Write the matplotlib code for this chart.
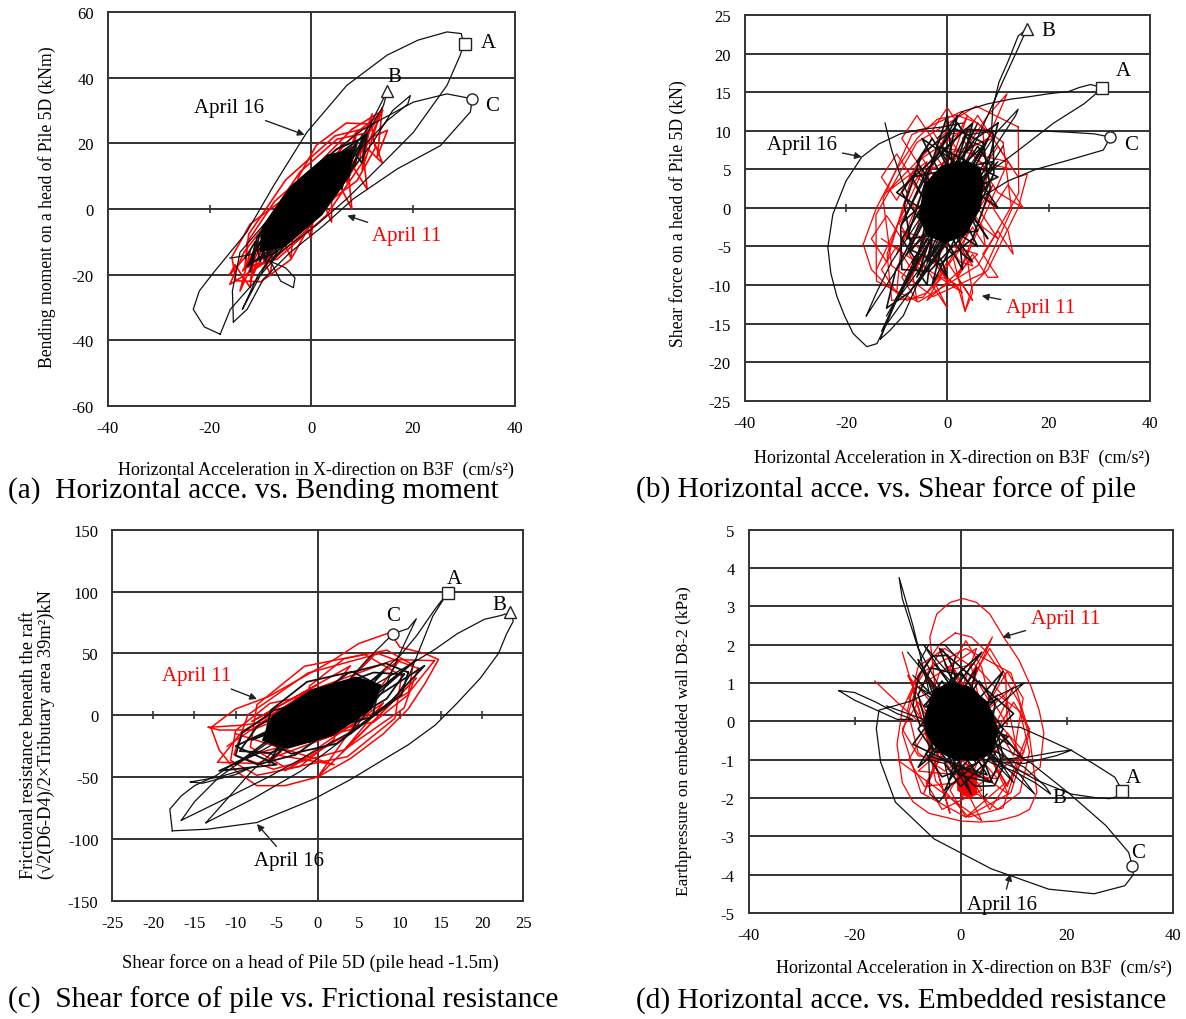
import matplotlib.pyplot as plt

plt.rcParams['font.family'] = ['Liberation Serif', 'DejaVu Serif']
plt.rcParams['axes.unicode_minus'] = False

RED = '#ff0000'

# ---------------- (a) Horizontal acce. vs. Bending moment ----------------
a_xticks = [-40, -20, 0, 20, 40]
a_yticks = [-60, -40, -20, 0, 20, 40, 60]

a16_A_x = [-17.9, -21, -23.2, -22, -19.2, -12.7, -7.4, -0.85, 7.0, 14.9, 21, 26.7, 29.5, 30.0,
           29.3, 26.7, 20.1, 13.6, 7.0, 1, -6.1, -11, -15.9, -17.9]
a16_A_y = [-38.2, -36, -30.6, -25, -19.4, -7.1, 7.1, 23.4, 37.7, 46.9, 51.5, 54, 53.5, 50.2,
           46.9, 37.7, 23.4, 13.2, 3.1, -5, -13.2, -22, -30.6, -38.2]
a16_C_x = [-15.3, -15.5, -14, -6.1, 1.8, 10.3, 20.1, 26.7, 31.7, 31.3, 25.4, 16.9, 8.3, 2.4,
           -4.1, -9.4, -12.6, -15.3]
a16_C_y = [-34.5, -25, -13.2, 1, 14.3, 24.4, 32.6, 35.1, 33.6, 29.6, 19.3, 12.2, 3.1, -5.1,
           -13.2, -21.4, -30.6, -34.5]
a16_B_x = [-13.5, -9, -2, 5.5, 11.5, 15, 14.2, 9.5, 3, -4.5, -10.5, -13.5]
a16_B_y = [-30.5, -17.3, -1, 13.2, 25.4, 36.1, 31.5, 19.3, 7.1, -7.1, -20.3, -30.5]
a16_D_x = [-8, -2, 6, 12, 16, 19.5, 19, 15, 9, 3, -3, -8]
a16_D_y = [-16, -6, 8, 20, 30, 34.6, 32, 27, 17, 6, -5, -16]
a16_lobe_x = [-8, -5, -3.2, -3.5, -6, -8]
a16_lobe_y = [-16, -18, -21, -24, -22, -16]
a16_seg_x = [-16, -12, -9]
a16_seg_y = [-15, -14, -11]
a16_core_x = [-12, -10, -9, -6, -7, -3, -5, 0, -2, 3, 1, 6, 4, 9, 7, 11, 10, 8, 6, 4, 2, 0, -2,
              -4, -6, -8, -10, -11, -13]
a16_core_y = [-19, -7, -16, -1, -13, 3, -9, 8, -4, 12, 1, 17, 4, 20, 9, 23, 14, 18, 6, 14, 0, 9,
              -6, 3, -12, -3, -16, -10, -15]
a16_k1_x = [10, 5, -3.5, -10.6, -12, -7, 1.5, 8.6, 10]
a16_k1_y = [21.5, 18.3, 5.9, -8.5, -16.5, -13.3, -0.9, 13.5, 21.5]
a16_k2_x = [8.7, 5.4, -0.5, -5.5, -6.7, -3.4, 2.5, 7.5, 8.7]
a16_k2_y = [19.3, 16.8, 8, -2, -7.3, -4.8, 4, 14, 19.3]
a16_k3_x = [3.7, 0.4, -5.5, -10.5, -11.7, -8.4, -2.5, 2.5, 3.7]
a16_k3_y = [10.3, 7.8, -1, -11, -16.3, -13.8, -5, 5, 10.3]
a16_k4_x = [10.6, 6.3, -2.3, -10, -12.6, -8.3, 0.3, 8.1, 10.6]
a16_k4_y = [22.5, 17.8, 4.2, -10.4, -17.5, -12.8, 0.8, 15.4, 22.5]
a16_fill_x = [8, 3.2, -4.1, -9.6, -10, -5.2, 2.1, 7.6]
a16_fill_y = [18, 16.4, 6.7, -5.5, -13, -11.4, -1.7, 10.5]

a11_1_x = [-16, -12, -14, -9, -12, -6, -9, -3, -6, 0, -2, 3, 1, 6, 4, 9, 7, 12, 10, 14, 13, 15,
           12, 14, 10, 11, 7, 8, 4, 4, 1, 0, -3, -4, -7, -8, -11, -12, -15, -16]
a11_1_y = [-20, -13, -25, -8, -22, -2, -18, 4, -13, 9, -7, 15, -2, 20, 3, 24, 8, 29, 12, 31, 16,
           24, 22, 14, 20, 6, 16, 0, 12, -4, 7, -9, 2, -15, -4, -20, -10, -24, -17, -20]
a11_r1_x = [14, 8, -3.2, -13.2, -16, -10, 1.2, 11.2, 14]
a11_r1_y = [30, 24.3, 6.5, -13.1, -23, -17.3, 0.5, 20.1, 30]
a11_r2_x = [11, 4.7, -5, -12.3, -13, -6.7, 3, 10.3, 11]
a11_r2_y = [24.7, 22.3, 8.9, -7.7, -17.7, -15.3, -1.9, 14.7, 24.7]
a11_r3_x = [10, 5.1, -2.2, -7.6, -8, -3.1, 4.2, 9.6, 10]
a11_r3_y = [22.9, 21.3, 11.3, -1.2, -8.9, -7.3, 2.7, 15.2, 22.9]
a11_r4_x = [5, 0.1, -7.2, -12.6, -13, -8.1, -0.8, 4.6, 5]
a11_r4_y = [13.9, 12.3, 2.3, -10.2, -17.9, -16.3, -6.3, 6.2, 13.9]
a11_r5_x = [11.8, 6.9, 1, -2.6, -1.8, 3.1, 9, 12.6, 11.8]
a11_r5_y = [25.9, 26.2, 19.4, 9.4, 2.1, 1.8, 8.6, 18.6, 25.9]
a11_r6_x = [-1.3, -6.1, -12, -15.6, -14.8, -9.9, -4, -0.4, -1.3]
a11_r6_y = [1.9, 2.2, -4.6, -14.6, -21.9, -22.2, -15.4, -5.4, 1.9]
a11_r7_x = [13.5, 8.7, -1.2, -10.4, -13.5, -8.7, 1.2, 10.4, 13.5]
a11_r7_y = [28.9, 23, 6.6, -10.7, -18.9, -13, 3.4, 20.7, 28.9]

a_marks = [(30.2, 50.3, 's'), (15.0, 36.1, '^'), (31.7, 33.6, 'o')]
a_letters = [('A', 34.8, 50.9), ('B', 16.4, 40.5), ('C', 35.6, 31.5)]

# ---------------- (b) Horizontal acce. vs. Shear force of pile ----------------
b_xticks = [-40, -20, 0, 20, 40]
b_yticks = [-25, -20, -15, -10, -5, 0, 5, 10, 15, 20, 25]

b16_arc_x = [3, -0.8, -5, -9.3, -13.5, -16.9, -20, -22.6, -23.6, -23, -21.8, -20.3, -18.6, -15.9,
             -13.9, -12, -9, -6, -3, 0]
b16_arc_y = [11, 10.5, 10.2, 9.6, 8.3, 6.6, 3.5, -0.8, -5.1, -8.5, -11.5, -14, -16.3, -18, -17.6,
             -15, -10.5, -6.5, -3, 0]
b16_B_x = [-13.2, -10.2, -6, -2.6, 1, 4.9, 8, 10.9, 13.5, 15.7, 14, 12, 10.2, 9, 8.7, 6, 3.4, 0,
           -2.6, -6, -8.7, -11.5, -13.2]
b16_B_y = [-17, -11.8, -7, -3.2, 2, 7.6, 12, 16.3, 20, 23.2, 22.3, 19, 16.3, 13, 9.8, 6, 3.3, -1,
           -5.3, -10, -14, -16, -17]
b16_A_x = [-2, 3, 8, 12.5, 16, 20, 24, 26, 28.3, 30.6, 29, 27, 21, 13.5, 8, 3, -2]
b16_A_y = [9, 12.5, 13.5, 14.1, 14.4, 14.8, 15.1, 15.6, 16, 15.6, 14.6, 13.5, 11, 7.2, 4.5, 2, -1]
b16_C_x = [4, 10.9, 18, 24.3, 29, 32.1, 31.5, 30.8, 24, 17.5, 12, 8.3, 3]
b16_C_y = [9.5, 10.1, 10, 9.8, 9.6, 9.2, 8.3, 7.5, 6.2, 5, 3.5, 2, 0]
b16_small_x = [2, 6, 10, 14, 13.5, 10, 6, 2]
b16_small_y = [2, 6, 10, 12.8, 12, 8.5, 4.5, 1]
b16_spike_x = [-12.3, -11, -9.5, -8]
b16_spike_y = [11, 7.5, 4.6, 2]
b16_diag_x = [-16, -12, -8, -4, 0, 4, 7, 5, 1, -3, -7, -11, -14, -16]
b16_diag_y = [-14, -10, -6, -3, 1, 5, 8, 8.5, 5, 1, -3, -7, -11, -14]
b16_chord_x = [-12, 8, -10, 10, -8, 6, -13, 9, -6, 11]
b16_chord_y = [-14, 9, -12, 6, -6, 11, -16, 4, -10, 8]
b16_core_x = [-8, 4, -6, 7, -9, 2, -4, 8, -5, 6, -10, 5, -3, 9, -7, 3, 0, -8, 6, -2, 10, -6, 1]
b16_core_y = [-6, 10, -9, 8, -2, 12, -7, 3, 9, -5, 2, 11, -10, 6, 4, -8, 12, -4, -3, 8, 4, -1, -6]
b16_ring_x = [-3, -6, -9, -6, -3, -6, -9, -6, 0, -3, -6, -3, 5, 2, -1, 2, 9, 6, 3, 6, 10, 7, 4, 7,
              8, 5, 2, 5, 3, 0, -3, 0, -1, -4, -7, -4, -3]
b16_ring_y = [-4, -1, -4, -7, 2, 5, 2, -1, 6, 9, 6, 3, 8, 11, 8, 5, 5, 8, 5, 2, 0, 3, 0, -3, -4,
              -1, -4, -7, -6, -3, -6, -9, -7, -4, -7, -10, -4]
b16_k1_x = [9, 3.5, -4, -9.2, -9, -3.5, 4, 9.2, 9]
b16_k1_y = [10, 10.2, 5, -2.5, -8, -8.2, -3, 4.5, 10]
b16_k2_x = [7, 1.4, -5, -8.5, -7, -1.4, 5, 8.5, 7]
b16_k2_y = [8.5, 10.3, 7, 0.4, -5.5, -7.3, -4, 2.6, 8.5]
b16_k3_x = [10, 5.4, -3, -10.2, -12, -7.4, 1, 8.2, 10]
b16_k3_y = [11, 8.9, 1, -8.1, -13, -10.9, -3, 6.1, 11]
b16_fill_x = [6.5, 3.5, -1, -4.5, -5.5, -4, -0.5, 3.5, 6.5, 7]
b16_fill_y = [5, 6, 5.5, 3, -1, -3.5, -4.5, -3.5, 0, 3]

b11_1_x = [-16.6, -14, -10, -6, -2, 2, 6, 9, 12, 14, 15.8, 14, 11, 8, 5, 3.5, 2, -1, -4, -8, -12,
           -15, -16.6]
b11_1_y = [-4.7, 0, 5, 9, 11.5, 12, 11, 9, 6, 4, 4.4, 0, -4, -8, -10, -13.4, -10, -9, -11, -12,
           -10, -8, -4.7]
b11_3_x = [4, 8, 11.8, 10, 6]
b11_3_y = [8, 12, 14.8, 12, 6]
b11_zig_x = [-14, -4, -12, 0, -10, 4, -8, 8, -6, 10, -2, 12, 2, 9, -4, 6, -9, 3, -13]
b11_zig_y = [-8, 6, 2, 10, -6, 12, -10, 9, 4, -4, 8, 6, -9, 3, -12, -6, -3, -11, -4]
b11_lobe_x = [1, 2.5, 3.5, 5, 4, 2]
b11_lobe_y = [-6, -10, -13.4, -11, -7, -4]
b11_ring1_x = [-9, -12, -15, -12, -7, -10, -13, -10, -3, -6, -9, -6, 3, 0, -3, 0, 9, 6, 3, 6, 13,
               10, 7, 10, 15, 12, 9, 12, 13, 10, 7, 10, 8, 5, 2, 5, 3, 0, -3, 0, -3, -6, -9, -6,
               -7, -10, -13, -10, -9]
b11_ring1_y = [-4, -1, -4, -7, 4, 7, 4, 1, 9, 12, 9, 6, 10, 13, 10, 7, 9, 12, 9, 6, 5, 8, 5, 2, 0,
               3, 0, -3, -6, -3, -6, -9, -9, -6, -9, -12, -10, -7, -10, -13, -9, -6, -9, -12, -8,
               -5, -8, -11, -4]
b11_ring2_x = [-4.5, -7, -9.5, -7, -2.5, -5, -7.5, -5, 2.5, 0, -2.5, 0, 7.5, 5, 2.5, 5, 9.5, 7,
               4.5, 7, 7.5, 5, 2.5, 5, 2.5, 0, -2.5, 0, -2.5, -5, -7.5, -5, -4.5]
b11_ring2_y = [-2, 0.5, -2, -4.5, 4, 6.5, 4, 1.5, 7, 9.5, 7, 4.5, 5, 7.5, 5, 2.5, 0, 2.5, 0, -2.5,
               -5, -2.5, -5, -7.5, -7, -4.5, -7, -9.5, -6, -3.5, -6, -8.5, -2]
b11_r1_x = [14, 5.7, -6, -14.1, -14, -5.7, 6, 14.1, 14]
b11_r1_y = [10.5, 13.2, 8.5, -0.9, -9.5, -12.2, -7.5, 1.9, 10.5]
b11_r2_x = [11, 2.8, -7, -12.7, -11, -2.8, 7, 12.7, 11]
b11_r2_y = [8.5, 12.5, 9.5, 1.2, -7.5, -11.5, -8.5, -0.2, 8.5]
b11_r3_x = [7, 0.8, -7, -11.9, -11, -4.8, 3, 7.9, 7]
b11_r3_y = [10, 9.6, 3, -6, -12, -11.6, -5, 4, 10]

b_marks = [(30.6, 15.6, 's'), (15.7, 23.2, '^'), (32.1, 9.2, 'o')]
b_letters = [('A', 34.7, 17.8), ('B', 20.0, 23.0), ('C', 36.2, 8.2)]

# ---------------- (c) Shear force of pile vs. Frictional resistance ----------------
c_xticks = [-25, -20, -15, -10, -5, 0, 5, 10, 15, 20, 25]
c_yticks = [-150, -100, -50, 0, 50, 100, 150]

c16_B_x = [-17.7, -13.4, -7.4, -0.5, 4, 7.4, 11, 14.3, 17, 19.8, 22, 23, 23.8, 23.5, 22.1, 20.3,
           17, 14.3, 11, 7.4, 4, 0.5, -3, -6.5, -10, -12.4, -15, -16.6, -18, -17.7]
c16_B_y = [-93.5, -92.2, -86.8, -67.9, -52, -38.3, -24, -8, 10, 30, 50, 66, 76, 83, 80.3, 77.6,
           66, 53.4, 40, 26.4, 13, -0.5, -14, -27.5, -38, -49, -57, -65.2, -76, -93.5]
c16_A_x = [-16.6, -12, -6, 0, 5, 9, 11, 12.5, 14, 15.8, 14.3, 12, 10, 6, 0, -6, -12, -15, -16.6]
c16_A_y = [-85, -70, -50, -28, -10, 10, 30, 55, 80, 99, 86, 64, 48, 25, 2, -22, -50, -70, -85]
c16_C_x = [-13.6, -8, -2, 4, 8, 10, 12, 11, 9.2, 6, 2, -3, -8, -13.6]
c16_C_y = [-87, -68, -45, -15, 20, 50, 78, 70, 66, 45, 15, -15, -45, -87]
c16_small_x = [-15.5, -12, -8, -10, -14, -15.5]
c16_small_y = [-54, -50, -42, -48, -55, -54]
c16_core_x = [-10, -4, -8, 0, -5, 4, -2, 8, 2, 12, 6, 13, 9, 4, 7, -1, 3, -6, -2, -10, -5, -12, -7]
c16_core_y = [-40, -10, -20, 5, -28, 20, -15, 35, -8, 45, 10, 40, 12, -15, 25, -22, 18, -38, 0,
              -25, -40, -45, -30]
c16_k1_x = [10.5, 6.8, -0.6, -7.4, -9.5, -5.8, 1.6, 8.4, 10.5]
c16_k1_y = [33, 34.5, 17, -9.3, -29, -30.5, -13, 13.3, 33]
c16_k2_x = [7.5, 4.2, -1.3, -5.7, -6.5, -3.2, 2.3, 6.7, 7.5]
c16_k2_y = [24, 35.2, 27, 4.1, -20, -31.2, -23, -0.1, 24]
c16_k3_x = [11, 8.3, 3.7, -0.2, -1, 1.7, 6.3, 10.2, 11]
c16_k3_y = [34.6, 41.9, 34, 15.6, -2.6, -9.9, -2, 16.4, 34.6]
c16_k4_x = [2, -0.7, -5.3, -9.2, -10, -7.3, -2.7, 1.2, 2]
c16_k4_y = [4.6, 11.9, 4, -14.4, -32.6, -39.9, -32, -13.6, 4.6]
c16_fill_x = [7.7, 4.7, -0.8, -5.5, -6.7, -3.7, 1.8, 6.5]
c16_fill_y = [24.3, 30.7, 20.3, -0.8, -20.3, -26.7, -16.3, 4.8]

c11_1_x = [-13, -10, -6, -2, 2, 5, 8.8, 10, 13, 14.7, 13, 11, 8, 4, 0, -4, -7.4, -10, -12, -13]
c11_1_y = [-10, 5, 15, 30, 45, 58, 66.8, 55, 50, 45, 25, 5, -15, -35, -50, -57, -57, -45, -28, -10]
c11_tail_x = [-13.3, -9, -5, -8, -12, -13.3]
c11_tail_y = [-9.8, -8, -4, -12, -12, -9.8]
c11_zig_x = [-11, 0, -8, 4, -6, 7, -3, 10, 0, 12, 3, 8, -4, 5, -7, 2, -10]
c11_zig_y = [-25, 25, -5, 40, -40, 50, -20, 45, -50, 30, -30, 10, -45, -10, -30, -40, -15]
c11_r1_x = [14.2, 9.4, -0.3, -9.2, -12.2, -7.4, 2.3, 11.2, 14.2]
c11_r1_y = [44.1, 45, 21.3, -13.1, -38.1, -39, -15.3, 19.1, 44.1]
c11_r2_x = [10.2, 5.7, -1.6, -7.4, -8.2, -3.7, 3.6, 9.4, 10.2]
c11_r2_y = [31.8, 49.2, 39.6, 8.5, -25.8, -43.2, -33.6, -2.5, 31.8]
c11_r3_x = [11.6, 8.4, 3.2, -1, -1.6, 1.6, 6.8, 11, 11.6]
c11_r3_y = [40.6, 52.6, 45.6, 23.6, -0.6, -12.6, -5.6, 16.4, 40.6]
c11_r4_x = [2.6, -0.6, -5.8, -10, -10.6, -7.4, -2.2, 2, 2.6]
c11_r4_y = [4.6, 16.6, 9.6, -12.4, -36.6, -48.6, -41.6, -19.6, 4.6]
c11_r5_x = [12.2, 7.4, -1.2, -8.5, -10.2, -5.4, 3.2, 10.5, 12.2]
c11_r5_y = [37.9, 49.7, 34.1, 0.3, -31.9, -43.7, -28.1, 5.7, 37.9]

c_marks = [(15.8, 99, 's'), (23.4, 83.2, '^'), (9.2, 66, 'o')]
c_letters = [('A', 16.6, 110.6), ('B', 22.1, 89.9), ('C', 9.2, 81)]

# ---------------- (d) Horizontal acce. vs. Embedded resistance ----------------
d_xticks = [-40, -20, 0, 20, 40]
d_yticks = [-5, -4, -3, -2, -1, 0, 1, 2, 3, 4, 5]

d16_C_x = [-5, -10, -15.4, -15.9, -15.1, -12.3, -5, 5.8, 16.6, 25.2, 31, 32.6, 32.4, 31.7, 27.4,
           20.2, 13, 5.8, 0]
d16_C_y = [0.8, 0.5, 0.29, -0.19, -1.06, -2.11, -3.07, -3.85, -4.38, -4.5, -4.29, -4.0, -3.77,
           -3.42, -2.72, -1.85, -1.06, -0.54, -0.2]
d16_A_x = [0, 5, 11.3, 16, 20.9, 25, 29.1, 30.5, 30, 28.1, 25.3, 20.9, 14.4, 10, 5, 0]
d16_A_y = [-0.3, -0.1, -0.16, -0.45, -0.76, -1.1, -1.46, -1.81, -1.95, -2.02, -1.99, -1.9, -1.54,
           -1.2, -0.9, -0.6]
d16_B_x = [2, 6, 10, 14, 17, 16, 12, 8, 4]
d16_B_y = [-0.8, -1.1, -1.3, -1.6, -1.9, -1.7, -1.2, -0.9, -0.6]
d16_thin_x = [6, 12, 18, 21, 18, 12, 6]
d16_thin_y = [-1.0, -0.95, -0.8, -0.75, -0.9, -1.1, -1.05]
d16_left_x = [-23, -20, -16, -12, -9, -12, -16, -20, -23]
d16_left_y = [0.8, 0.75, 0.5, 0.2, 0.05, 0.05, 0.3, 0.55, 0.8]
d16_spike_x = [-6, -9, -11.6, -11, -8, -4]
d16_spike_y = [0.8, 2.5, 3.75, 3.2, 1.9, 0.9]
d16_top_x = [-8, -6, -3, -1, -2, -5, -8]
d16_top_y = [1.5, 2, 2, 1.7, 1, 0.8, 1.5]
d16_ur_x = [0, 6, 12, 8, 2]
d16_ur_y = [0, 0.6, 1.0, 0.5, -0.2]
d16_low_x = [-6, -5.8, -4, -2, -3, -6]
d16_low_y = [-1, -1.9, -2.1, -1.7, -1.1, -1]
d16_hook_x = [3, 4.3, 4.3, 5]
d16_hook_y = [-1, -1.2, -2, -1.9]
d16_line_x = [-14, -8, -2, 3]
d16_line_y = [0.4, 0.1, -0.2, -0.4]
d16_chord_x = [-10, 8, -9, 10, -7, 12, -5, 14, -8, 9]
d16_chord_y = [1.8, -1.2, 1.2, -1.6, 2.0, -1.0, 1.5, -1.9, 0.9, -0.6]
d16_core_x = [-8, 5, -6, 8, -3, 9, -7, 4, -9, 6, -4, 10, -2, 3, -8, 7, -5, 2, -6]
d16_core_y = [1.6, -1.4, -0.9, 1.3, -1.8, -0.4, 0.4, 1.8, -0.6, -1.6, 1.9, 0.2, -1.5, 1.4, -1.2,
              0.6, -0.3, -1.9, 1.0]
d16_ring_x = [8, 5, 2, 5, 6.5, 3.5, 0.5, 3.5, 3, 0, -3, 0, -0.5, -3.5, -6.5, -3.5, -2, -5, -8, -5,
              -0.5, -3.5, -6.5, -3.5, 3, 0, -3, 0, 6.5, 3.5, 0.5, 3.5, 8]
d16_ring_y = [-0.2, 0.4, -0.2, -0.8, 0.45, 1.05, 0.45, -0.15, 0.7, 1.3, 0.7, 0.1, 0.45, 1.05, 0.45,
              -0.15, -0.2, 0.4, -0.2, -0.8, -0.85, -0.25, -0.85, -1.45, -1.1, -0.5, -1.1, -1.7,
              -0.85, -0.25, -0.85, -1.45, -0.2]
d16_k1_x = [8, 5.9, 0.3, -5.5, -8, -5.9, -0.3, 5.5, 8]
d16_k1_y = [-0.9, 0.25, 1.2, 1.39, 0.7, -0.45, -1.4, -1.59, -0.9]
d16_k2_x = [5, 3.2, -1, -5.2, -7, -5.2, -1, 3.2, 5]
d16_k2_y = [0, 0.71, 1, 0.71, 0, -0.71, -1, -0.71, 0]
d16_k3_x = [-1, -2.4, -5.3, -8, -9, -7.6, -4.7, -2, -1]
d16_k3_y = [1.2, 1.72, 1.7, 1.16, 0.4, -0.12, -0.1, 0.44, 1.2]
d16_k4_x = [8, 6.7, 3.2, -0.4, -2, -0.7, 2.8, 6.4, 8]
d16_k4_y = [-1.2, -0.54, -0.1, -0.12, -0.6, -1.26, -1.7, -1.68, -1.2]
d16_fill_x = [-6.5, -5, -2, 1.5, 5, 7, 6, 3, -1, -4.5, -6.5]
d16_fill_y = [0.2, 0.8, 1.0, 0.9, 0.5, -0.2, -0.8, -1.0, -1.0, -0.7, -0.3]

d11_1_x = [-4.7, -5.8, -4.5, -2, 0.5, 3, 5.5, 8.1, 11, 13.3, 14.8, 15.7, 15, 13, 10, 7, 4, 1, -2, -4.7]
d11_1_y = [0.7, 2.2, 2.8, 3.1, 3.2, 3.1, 2.8, 2.2, 1.6, 0.9, 0.3, -0.3, -1.2, -1.4, -1.2, -0.8,
           -0.5, -0.2, 0.2, 0.7]
d11_2_x = [-1, 2, 5, 8, 11, 13, 14.4, 13, 10.8, 7, 3.6, 0, -3, -6, -9, -11, -12, -11, -8, -4, -1]
d11_2_y = [2.3, 2.2, 1.8, 1.2, 0.5, -0.4, -1.85, -2.3, -2.46, -2.6, -2.63, -2.6, -2.5, -2.4, -2.1,
           -1.6, -0.6, 0.3, 1.2, 2.0, 2.3]
d11_streak_x = [-16.2, -12, -8]
d11_streak_y = [1.05, 0.5, 0]
d11_zig_x = [-11, -2, -9, 3, -7, 6, -5, 9, -3, 12, 0, 10, -8, 7, -10, 4, -12]
d11_zig_y = [1.8, -2.4, 0.8, 1.9, -1.9, 2.2, -0.5, -1.9, 1.5, -0.8, -2.0, 0.9, -1.3, -1.5, 1.2,
             -2.6, -1.0]
d11_ring1_x = [13, 10, 7, 10, 11.8, 8.8, 5.8, 8.8, 8.5, 5.5, 2.5, 5.5, 4, 1, -2, 1, -0.5, -3.5,
               -6.5, -3.5, -3.8, -6.8, -9.8, -6.8, -5, -8, -11, -8, -3.8, -6.8, -9.8, -6.8, -0.5,
               -3.5, -6.5, -3.5, 4, 1, -2, 1, 8.5, 5.5, 2.5, 5.5, 11.8, 8.8, 5.8, 8.8, 13]
d11_ring1_y = [-0.2, 0.5, -0.2, -0.9, 0.6, 1.3, 0.6, -0.1, 1.2, 1.9, 1.2, 0.5, 1.4, 2.1, 1.4, 0.7,
               1.2, 1.9, 1.2, 0.5, 0.6, 1.3, 0.6, -0.1, -0.2, 0.5, -0.2, -0.9, -1.0, -0.3, -1.0,
               -1.7, -1.6, -0.9, -1.6, -2.3, -1.8, -1.1, -1.8, -2.5, -1.6, -0.9, -1.6, -2.3, -1.0,
               -0.3, -1.0, -1.7, -0.2]
d11_r1_x = [13, 9.5, 1, -7.5, -11, -7.5, 1, 9.5, 13]
d11_r1_y = [-0.3, 1.26, 1.9, 1.26, -0.3, -1.86, -2.5, -1.86, -0.3]
d11_r2_x = [11, 8.7, 2.5, -4, -7, -4.7, 1.5, 8, 11]
d11_r2_y = [-1, 0.56, 1.5, 1.26, 0, -1.56, -2.5, -2.26, -1]
d11_r3_x = [4, 2, -3, -8, -10, -8, -3, 2, 4]
d11_r3_y = [0.3, 1.43, 1.9, 1.43, 0.3, -0.83, -1.3, -0.83, 0.3]
d11_r4_x = [13, 11.2, 7, 2.8, 1, 2.8, 7, 11.2, 13]
d11_r4_y = [-0.8, 0.26, 0.7, 0.26, -0.8, -1.86, -2.3, -1.86, -0.8]
d11_blob_x = [-0.7, 2.9, 3, 1.5, -0.5]
d11_blob_y = [-1.2, -1.3, -1.9, -2.0, -1.8]

d_marks = [(30.5, -1.81, 's'), (32.4, -3.77, 'o')]
d_letters = [('A', 32.6, -1.46), ('B', 18.6, -2.0), ('C', 33.4, -3.42)]


def style_axes(ax, xticks, yticks):
    ax.set_xlim(xticks[0], xticks[-1])
    ax.set_ylim(yticks[0], yticks[-1])
    ax.set_xticks(xticks)
    ax.set_yticks(yticks)
    ax.tick_params(length=0, labelsize=12, pad=10)
    for s in ax.spines.values():
        s.set_linewidth(1.4)
        s.set_color('#333333')
    for y in yticks[1:-1]:
        ax.axhline(y, color='#333333', lw=1.4, zorder=1)
    ax.axvline(0, color='#333333', lw=1.4, zorder=1)
    # small tick marks on the zero lines
    ax.plot(xticks[1:-1], [0] * len(xticks[1:-1]), ls='none', marker='|', ms=6,
            mew=1.2, color='#333333', zorder=1)
    ax.plot([0] * len(yticks[1:-1]), yticks[1:-1], ls='none', marker='_', ms=6,
            mew=1.2, color='#333333', zorder=1)


def black(ax, x, y, lw=0.9):
    ax.plot(x, y, color='#111111', lw=lw, zorder=3)


def red(ax, x, y, lw=0.9):
    ax.plot(x, y, color=RED, lw=lw, zorder=2)


def marks(ax, mlist, letters):
    for x, y, m in mlist:
        ax.plot(x, y, marker=m, ms=8, mfc='white', mec='#222222', mew=1.0, zorder=5)
    for t, x, y in letters:
        ax.text(x, y, t, fontsize=15, ha='center', va='center', zorder=6)


def note(ax, text, xy, xytext, color='black'):
    ax.annotate(text, xy=xy, xytext=xytext, fontsize=15, color=color, ha='center', va='center',
                arrowprops=dict(arrowstyle='-|>', color='#222222', lw=1.0, mutation_scale=10,
                                shrinkA=2, shrinkB=0), zorder=6)


fig = plt.figure(figsize=(11.86, 10.2), dpi=100)

# (a)
ax = fig.add_axes([0.0909, 0.6013, 0.343, 0.3857])
style_axes(ax, a_xticks, a_yticks)
for x, y in [(a16_A_x, a16_A_y), (a16_C_x, a16_C_y), (a16_B_x, a16_B_y), (a16_D_x, a16_D_y),
             (a16_lobe_x, a16_lobe_y), (a16_seg_x, a16_seg_y)]:
    black(ax, x, y)
for x, y in [(a11_1_x, a11_1_y), (a11_r1_x, a11_r1_y), (a11_r2_x, a11_r2_y),
             (a11_r3_x, a11_r3_y), (a11_r4_x, a11_r4_y), (a11_r5_x, a11_r5_y),
             (a11_r6_x, a11_r6_y), (a11_r7_x, a11_r7_y)]:
    red(ax, x, y, lw=1.2)
for x, y in [(a16_core_x, a16_core_y), (a16_k1_x, a16_k1_y), (a16_k2_x, a16_k2_y),
             (a16_k3_x, a16_k3_y), (a16_k4_x, a16_k4_y)]:
    black(ax, x, y, lw=1.3)
ax.fill(a16_fill_x, a16_fill_y, color='black', zorder=3)
marks(ax, a_marks, a_letters)
note(ax, 'April 16', (-1.3, 22.6), (-16.1, 31))
note(ax, 'April 11', (7.1, -2), (18.8, -8.1), color=RED)

# (b)
ax = fig.add_axes([0.628, 0.6062, 0.3415, 0.378])
style_axes(ax, b_xticks, b_yticks)
for x, y in [(b16_arc_x, b16_arc_y), (b16_B_x, b16_B_y), (b16_A_x, b16_A_y), (b16_C_x, b16_C_y),
             (b16_small_x, b16_small_y), (b16_spike_x, b16_spike_y), (b16_diag_x, b16_diag_y),
             (b16_chord_x, b16_chord_y)]:
    black(ax, x, y)
for x, y in [(b11_1_x, b11_1_y), (b11_3_x, b11_3_y), (b11_zig_x, b11_zig_y),
             (b11_lobe_x, b11_lobe_y), (b11_ring1_x, b11_ring1_y), (b11_ring2_x, b11_ring2_y),
             (b11_r1_x, b11_r1_y), (b11_r2_x, b11_r2_y), (b11_r3_x, b11_r3_y)]:
    red(ax, x, y)
for x, y in [(b16_core_x, b16_core_y), (b16_ring_x, b16_ring_y), (b16_k1_x, b16_k1_y),
             (b16_k2_x, b16_k2_y), (b16_k3_x, b16_k3_y)]:
    black(ax, x, y, lw=1.2)
ax.fill(b16_fill_x, b16_fill_y, color='black', zorder=3)
marks(ax, b_marks, b_letters)
note(ax, 'April 16', (-16.9, 6.6), (-28.7, 8.2))
note(ax, 'April 11', (6.8, -11.4), (18.5, -12.9), color=RED)

# (c)
ax = fig.add_axes([0.0947, 0.116, 0.3464, 0.3637])
style_axes(ax, c_xticks, c_yticks)
for x, y in [(c16_B_x, c16_B_y), (c16_A_x, c16_A_y), (c16_C_x, c16_C_y), (c16_small_x, c16_small_y)]:
    black(ax, x, y)
for x, y in [(c11_1_x, c11_1_y), (c11_tail_x, c11_tail_y), (c11_zig_x, c11_zig_y),
             (c11_r1_x, c11_r1_y), (c11_r2_x, c11_r2_y), (c11_r3_x, c11_r3_y),
             (c11_r4_x, c11_r4_y), (c11_r5_x, c11_r5_y)]:
    red(ax, x, y, lw=1.1)
for x, y in [(c16_core_x, c16_core_y), (c16_k1_x, c16_k1_y), (c16_k2_x, c16_k2_y),
             (c16_k3_x, c16_k3_y), (c16_k4_x, c16_k4_y)]:
    black(ax, x, y, lw=1.3)
ax.fill(c16_fill_x, c16_fill_y, color='black', zorder=3)
marks(ax, c_marks, c_letters)
note(ax, 'April 11', (-7.4, 13.1), (-14.7, 31.9), color=RED)
note(ax, 'April 16', (-7.4, -88), (-3.5, -117.7))

# (d)
ax = fig.add_axes([0.6312, 0.104, 0.3575, 0.3758])
style_axes(ax, d_xticks, d_yticks)
for x, y in [(d16_C_x, d16_C_y), (d16_A_x, d16_A_y), (d16_B_x, d16_B_y), (d16_thin_x, d16_thin_y),
             (d16_left_x, d16_left_y), (d16_spike_x, d16_spike_y), (d16_top_x, d16_top_y),
             (d16_ur_x, d16_ur_y), (d16_low_x, d16_low_y), (d16_hook_x, d16_hook_y),
             (d16_line_x, d16_line_y), (d16_chord_x, d16_chord_y)]:
    black(ax, x, y)
for x, y in [(d11_1_x, d11_1_y), (d11_2_x, d11_2_y), (d11_streak_x, d11_streak_y),
             (d11_zig_x, d11_zig_y), (d11_ring1_x, d11_ring1_y), (d11_r1_x, d11_r1_y),
             (d11_r2_x, d11_r2_y), (d11_r3_x, d11_r3_y), (d11_r4_x, d11_r4_y)]:
    red(ax, x, y)
ax.fill(d11_blob_x, d11_blob_y, color=RED, zorder=2)
for x, y in [(d16_core_x, d16_core_y), (d16_ring_x, d16_ring_y), (d16_k1_x, d16_k1_y),
             (d16_k2_x, d16_k2_y), (d16_k3_x, d16_k3_y), (d16_k4_x, d16_k4_y)]:
    black(ax, x, y, lw=1.2)
ax.fill(d16_fill_x, d16_fill_y, color='black', zorder=3)
marks(ax, d_marks, d_letters)
note(ax, 'April 11', (7.9, 2.19), (19.8, 2.67), color=RED)
note(ax, 'April 16', (9.4, -3.98), (7.9, -4.77))

# axis titles and captions
xl = 'Horizontal Acceleration in X-direction on B3F  (cm/s\u00b2)'
fig.text(0.266, 0.539, xl, fontsize=13, ha='center', va='center')
fig.text(0.803, 0.551, xl, fontsize=13, ha='center', va='center')
fig.text(0.262, 0.056, 'Shear force on a head of Pile 5D (pile head -1.5m)', fontsize=13.4,
         ha='center', va='center')
fig.text(0.821, 0.051, xl, fontsize=13, ha='center', va='center')

fig.text(0.040, 0.797, 'Bending moment on a head of Pile 5D (kNm)', fontsize=12.7,
         rotation=90, ha='center', va='center')
fig.text(0.572, 0.791, 'Shear force on a head of Pile 5D (kN)', fontsize=12.7,
         rotation=90, ha='center', va='center')
fig.text(0.024, 0.270, 'Frictional resistance beneath the raft', fontsize=13.2,
         rotation=90, ha='center', va='center')
fig.text(0.039, 0.280, '(\u221a2(D6-D4)/2\u00d7Tributary area 39m\u00b2)kN', fontsize=13.2,
         rotation=90, ha='center', va='center')
fig.text(0.577, 0.273, 'Earthpressure on embedded wall D8-2 (kPa)', fontsize=12.5,
         rotation=90, ha='center', va='center')

fig.text(0.007, 0.519, '(a)  Horizontal acce. vs. Bending moment', fontsize=21.2, va='center')
fig.text(0.536, 0.519, '(b) Horizontal acce. vs. Shear force of pile', fontsize=21.2, va='center')
fig.text(0.007, 0.019, '(c)  Shear force of pile vs. Frictional resistance', fontsize=21.2,
         va='center')
fig.text(0.536, 0.019, '(d) Horizontal acce. vs. Embedded resistance', fontsize=21.2, va='center')

plt.savefig('out.png', dpi=100)
